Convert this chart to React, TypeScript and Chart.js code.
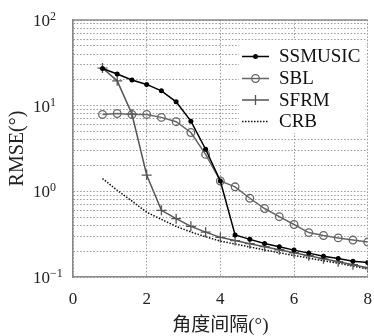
import React, { useEffect, useRef } from "react";
import { Chart, registerables } from "chart.js";

Chart.register(...registerables);

const angles = [0.8, 1.2, 1.6, 2.0, 2.4, 2.8, 3.2, 3.6, 4.0, 4.4, 4.8, 5.2, 5.6, 6.0, 6.4, 6.8, 7.2, 7.6, 8.0];
const ssmusic = [27.2, 23.4, 19.9, 17.7, 14.9, 11.1, 6.6, 3.1, 1.32, 0.31, 0.275, 0.246, 0.225, 0.206, 0.19, 0.175, 0.164, 0.153, 0.148];
const sbl = [7.9, 8.1, 7.9, 7.9, 7.3, 6.5, 4.86, 2.7, 1.32, 1.13, 0.83, 0.63, 0.506, 0.41, 0.33, 0.305, 0.286, 0.27, 0.256];
const sfrm = [27.5, 19.5, 8.0, 1.55, 0.6, 0.48, 0.39, 0.334, 0.29, 0.266, 0.245, 0.226, 0.208, 0.192, 0.177, 0.163, 0.151, 0.139, 0.128];
const crb = [1.41, 1.03, 0.77, 0.57, 0.47, 0.39, 0.335, 0.295, 0.262, 0.243, 0.224, 0.207, 0.192, 0.178, 0.166, 0.155, 0.145, 0.134, 0.124];

const seriesNames = ["SSMUSIC", "SBL", "SFRM", "CRB"];
const xTicks = [0, 2, 4, 6, 8];
const yMajorExps = [-1, 0, 1, 2];
const yGridValues = [0.1, 0.2, 0.3, 0.4, 0.5, 0.6, 0.7, 0.8, 0.9, 1, 2, 3, 4, 5, 6, 7, 8, 9, 10, 20, 30, 40, 50, 60, 70, 80, 90, 100];
const xTitle = "角度间隔(°)";
const yTitle = "RMSE(°)";

const SERIF = "'Liberation Serif', 'Noto Sans CJK SC', serif";

const colors = ["#000000", "#666666", "#555555", "#111111"];

const decorPlugin = {
  id: "decor",
  afterDraw(chart: any) {
    const { ctx, chartArea } = chart;
    const yScale = chart.scales.y;
    ctx.save();
    // top border
    ctx.strokeStyle = "#888888";
    ctx.lineWidth = 1.5;
    ctx.beginPath();
    ctx.moveTo(chartArea.left, chartArea.top);
    ctx.lineTo(chartArea.right, chartArea.top);
    ctx.stroke();

    // y tick labels with superscripts
    ctx.fillStyle = "#222222";
    ctx.textBaseline = "alphabetic";
    ctx.textAlign = "left";
    yMajorExps.forEach((e) => {
      const y = yScale.getPixelForValue(Math.pow(10, e));
      ctx.font = `17px ${SERIF}`;
      const base = "10";
      const x0 = 33;
      ctx.fillText(base, x0, y + 6);
      const w = ctx.measureText(base).width;
      ctx.font = `12px ${SERIF}`;
      const expText = e < 0 ? "\u2212" + String(-e) : String(e);
      ctx.fillText(expText, x0 + w, y);
    });

    // legend
    const lx0 = 239, ly0 = 40, lx1 = 365, ly1 = 133;
    ctx.fillStyle = "#ffffff";
    ctx.fillRect(lx0, ly0, lx1 - lx0, ly1 - ly0);
    const rows = [56.5, 78.5, 100, 121.5];
    rows.forEach((ry, i) => {
      const ds = chart.data.datasets[i];
      ctx.save();
      ctx.strokeStyle = ds.borderColor;
      ctx.lineWidth = ds.borderWidth;
      ctx.setLineDash(ds.borderDash || []);
      ctx.beginPath();
      ctx.moveTo(242, ry);
      ctx.lineTo(269, ry);
      ctx.stroke();
      ctx.setLineDash([]);
      const cx = 255.5;
      if (i === 0) {
        ctx.fillStyle = ds.borderColor;
        ctx.beginPath();
        ctx.arc(cx, ry, 2.5, 0, Math.PI * 2);
        ctx.fill();
      } else if (i === 1) {
        ctx.lineWidth = 1.3;
        ctx.beginPath();
        ctx.arc(cx, ry, 3.8, 0, Math.PI * 2);
        ctx.stroke();
      } else if (i === 2) {
        ctx.lineWidth = 1.3;
        ctx.beginPath();
        ctx.moveTo(cx, ry - 5);
        ctx.lineTo(cx, ry + 5);
        ctx.stroke();
      }
      ctx.restore();
      ctx.fillStyle = "#111111";
      ctx.font = `19px ${SERIF}`;
      ctx.textBaseline = "middle";
      ctx.textAlign = "left";
      ctx.fillText(seriesNames[i], 279, ry + 1);
    });
    ctx.restore();
  },
};

export default function App() {
  const ref = useRef<HTMLCanvasElement | null>(null);
  useEffect(() => {
    if (!ref.current) return;
    const mk = (d: number[]) => angles.map((x, i) => ({ x, y: d[i] }));
    const chart = new Chart(ref.current, {
      type: "line",
      data: {
        datasets: [
          {
            label: seriesNames[0],
            data: mk(ssmusic),
            borderColor: colors[0],
            backgroundColor: colors[0],
            borderWidth: 1.5,
            pointStyle: "circle",
            pointRadius: 2.5,
            pointBorderWidth: 0,
            pointBackgroundColor: colors[0],
          },
          {
            label: seriesNames[1],
            data: mk(sbl),
            borderColor: colors[1],
            backgroundColor: "rgba(0,0,0,0)",
            borderWidth: 1.5,
            pointStyle: "circle",
            pointRadius: 3.8,
            pointBorderWidth: 1.3,
            pointBorderColor: colors[1],
            pointBackgroundColor: "rgba(0,0,0,0)",
          },
          {
            label: seriesNames[2],
            data: mk(sfrm),
            borderColor: colors[2],
            backgroundColor: colors[2],
            borderWidth: 1.5,
            pointStyle: "cross",
            pointRadius: 5,
            pointBorderWidth: 1.3,
            pointBorderColor: colors[2],
          },
          {
            label: seriesNames[3],
            data: mk(crb),
            borderColor: colors[3],
            borderWidth: 1.5,
            borderDash: [1.5, 1.5],
            pointRadius: 0,
          },
        ],
      },
      options: {
        responsive: false,
        animation: false,
        layout: { padding: { left: 0, top: 20, right: 4, bottom: 0 } },
        plugins: { legend: { display: false }, tooltip: { enabled: false } },
        elements: { line: { tension: 0 } },
        scales: {
          x: {
            type: "linear",
            min: 0,
            max: 8,
            afterBuildTicks: (scale: any) => {
              scale.ticks = xTicks.map((v) => ({ value: v }));
            },
            afterFit: (scale: any) => {
              scale.height = 59;
              scale.paddingLeft = 0;
              scale.paddingRight = 0;
            },
            ticks: {
              font: { family: SERIF, size: 17 },
              color: "#222222",
              padding: 12,
              maxRotation: 0,
              callback: (v: any) => String(v),
            },
            grid: { color: "#9a9a9a", lineWidth: 1, drawTicks: false },
            border: { display: true, color: "#888888", width: 1.5, dash: [1.5, 1.8] },
            title: {
              display: true,
              text: xTitle,
              font: { family: SERIF, size: 19, lineHeight: 1 },
              color: "#222222",
              padding: { top: 0, bottom: 0.5 },
            },
          },
          y: {
            type: "logarithmic",
            min: 0.1,
            max: 100,
            afterBuildTicks: (scale: any) => {
              scale.ticks = yGridValues.map((v) => ({ value: v }));
            },
            afterFit: (scale: any) => {
              scale.width = 73;
              scale.paddingTop = 0;
              scale.paddingBottom = 0;
            },
            ticks: { display: false },
            grid: { color: "#9a9a9a", lineWidth: 1, drawTicks: false },
            border: { display: true, color: "#888888", width: 1.5, dash: [1.5, 1.8] },
            title: {
              display: true,
              text: yTitle,
              font: { family: SERIF, size: 20, lineHeight: 1.2 },
              color: "#222222",
              padding: { top: 6, bottom: 0 },
            },
          },
        },
      },
      plugins: [decorPlugin],
    } as any);
    return () => chart.destroy();
  }, []);
  return (
    <div style={{ position: "fixed", left: 0, top: 0, width: 374, height: 336, background: "#fff" }}>
      <canvas ref={ref} width={374} height={336} style={{ width: 374, height: 336, display: "block" }} />
    </div>
  );
}
